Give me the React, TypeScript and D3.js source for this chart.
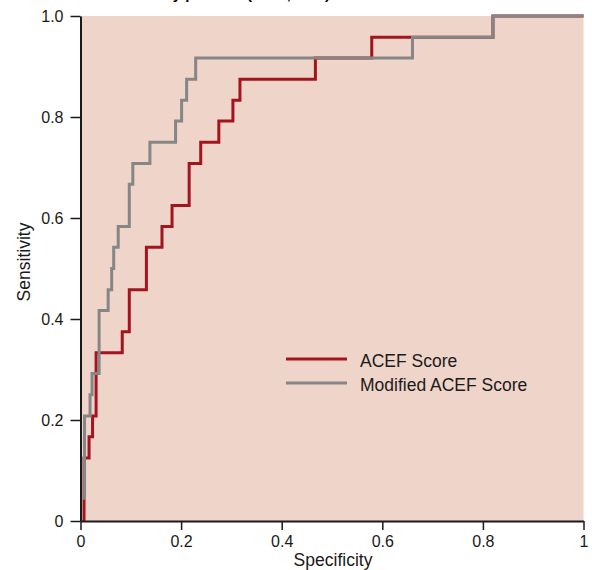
import React, { useRef, useEffect } from 'react';
import * as d3 from 'd3';

// ROC curve corner points (specificity axis, sensitivity)
const acefSpec = [0.007, 0.007, 0.017, 0.024, 0.031, 0.083, 0.097, 0.131, 0.162, 0.182, 0.216, 0.239, 0.275, 0.303, 0.317, 0.467, 0.579, 0.82, 1.0];
const acefSens = [0, 0.125, 0.167, 0.208, 0.333, 0.375, 0.458, 0.542, 0.583, 0.625, 0.708, 0.75, 0.792, 0.833, 0.875, 0.917, 0.958, 1.0, 1.0];

const modSpec = [0.008, 0.008, 0.019, 0.023, 0.037, 0.055, 0.062, 0.066, 0.075, 0.097, 0.104, 0.138, 0.189, 0.201, 0.211, 0.229, 0.66, 0.82, 1.0];
const modSens = [0.042, 0.208, 0.25, 0.292, 0.417, 0.458, 0.5, 0.542, 0.583, 0.667, 0.708, 0.75, 0.792, 0.833, 0.875, 0.917, 0.958, 1.0, 1.0];

const tickValues = [0, 0.2, 0.4, 0.6, 0.8, 1];
const xTickLabels = ['0', '0.2', '0.4', '0.6', '0.8', '1'];
const yTickLabels = ['0', '0.2', '0.4', '0.6', '0.8', '1.0'];

const seriesNames = ['ACEF Score', 'Modified ACEF Score'];
const seriesColors = ['#a3141f', '#868686'];

const title = 'ROC curves in elderly patients (n=24, 25%)';

const narrow = "'Liberation Sans Narrow', 'Arial Narrow', sans-serif";
const regular = "'Liberation Sans', Arial, sans-serif";

const App = () => {
  const svgRef = useRef<SVGSVGElement>(null);

  useEffect(() => {
    const svg = d3.select(svgRef.current);
    svg.selectAll('*').remove();

    const x = d3.scaleLinear().domain([0, 1]).range([80.5, 583.5]);
    const y = d3.scaleLinear().domain([0, 1]).range([521, 16]);

    // clipped title (only the bottom of it shows)
    svg.append('text')
      .attr('x', 330)
      .attr('y', -1)
      .attr('text-anchor', 'end')
      .attr('font-family', regular)
      .attr('font-weight', 'bold')
      .attr('font-size', 15)
      .text(title);

    // plot background
    svg.append('rect')
      .attr('x', x(0))
      .attr('y', y(1))
      .attr('width', x(1) - x(0))
      .attr('height', y(0) - y(1))
      .attr('fill', '#eed4c9');

    const series = [
      acefSpec.map((s, i) => [s, acefSens[i]]),
      modSpec.map((s, i) => [s, modSens[i]]),
    ];

    const line = d3.line<number[]>()
      .x(d => x(d[0]))
      .y(d => y(d[1]))
      .curve(d3.curveStepAfter);

    series.forEach((pts, i) => {
      svg.append('path')
        .datum(pts)
        .attr('fill', 'none')
        .attr('stroke', seriesColors[i])
        .attr('stroke-width', 3)
        .attr('d', line);
    });

    // axes
    const xAxis = svg.append('g')
      .attr('transform', `translate(0,${y(0)})`)
      .call(d3.axisBottom(x)
        .tickValues(tickValues)
        .tickFormat((d, i) => xTickLabels[i])
        .tickSize(9)
        .tickSizeOuter(0)
        .tickPadding(6));

    const yAxis = svg.append('g')
      .attr('transform', `translate(${x(0)},0)`)
      .call(d3.axisLeft(y)
        .tickValues(tickValues)
        .tickFormat((d, i) => yTickLabels[i])
        .tickSize(10)
        .tickSizeOuter(0)
        .tickPadding(7));

    [xAxis, yAxis].forEach(a => {
      a.select('.domain').attr('stroke', '#1a1a1a').attr('stroke-width', 2);
      a.selectAll('.tick line').attr('stroke', '#1a1a1a').attr('stroke-width', 1.5);
      a.selectAll('.tick text')
        .attr('font-family', narrow)
        .attr('font-size', 16)
        .attr('fill', '#1a1a1a');
    });

    // axis titles
    svg.append('text')
      .attr('x', 333)
      .attr('y', 566)
      .attr('text-anchor', 'middle')
      .attr('font-family', regular)
      .attr('font-size', 17.5)
      .attr('fill', '#1a1a1a')
      .text('Specificity');

    svg.append('text')
      .attr('transform', 'translate(30,262) rotate(-90)')
      .attr('text-anchor', 'middle')
      .attr('font-family', regular)
      .attr('font-size', 17.5)
      .attr('fill', '#1a1a1a')
      .text('Sensitivity');

    // legend
    const legend = svg.append('g').attr('transform', 'translate(286,359)');
    seriesNames.forEach((name, i) => {
      const row = legend.append('g').attr('transform', `translate(0,${i * 24})`);
      row.append('line')
        .attr('x1', 0).attr('x2', 61)
        .attr('stroke', seriesColors[i])
        .attr('stroke-width', 3);
      row.append('text')
        .attr('x', 74)
        .attr('y', 8)
        .attr('font-family', regular)
        .attr('font-size', 17.5)
        .attr('fill', '#1a1a1a')
        .text(name);
    });
  }, []);

  return (
    <svg
      ref={svgRef}
      width={592}
      height={570}
      style={{ position: 'absolute', left: 0, top: 0 }}
    />
  );
};

export default App;
